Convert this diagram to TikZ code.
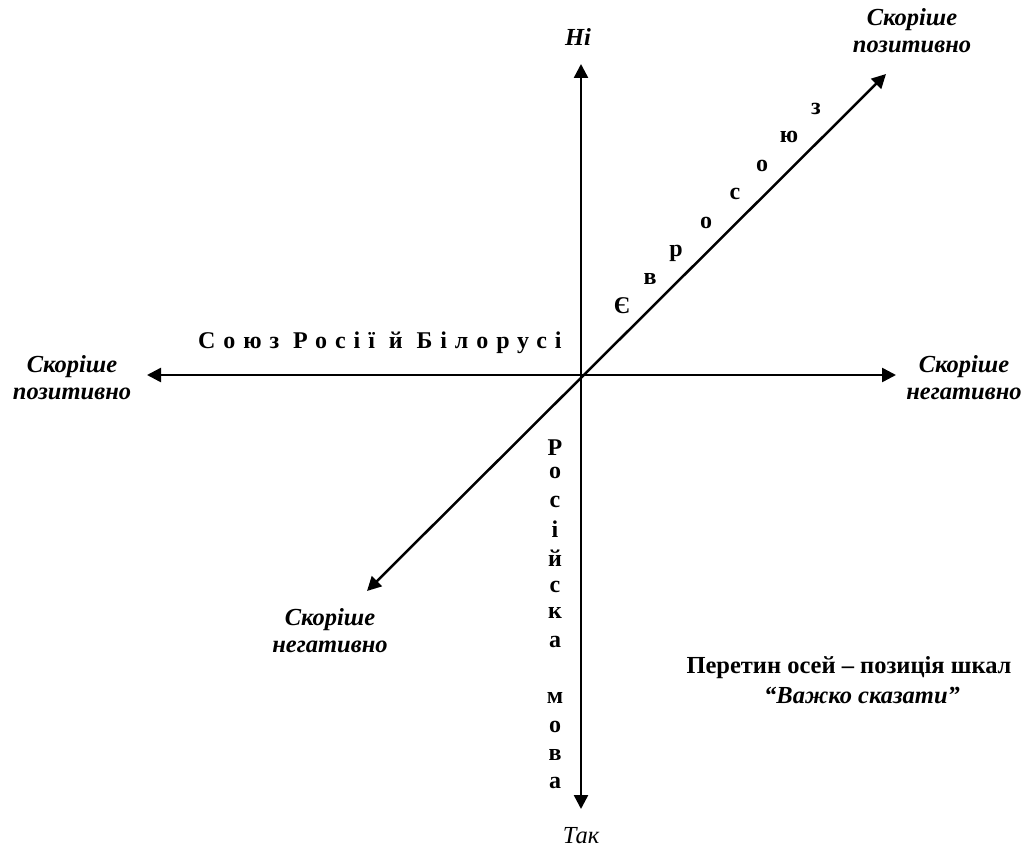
\documentclass[tikz,border=0pt]{standalone}
\usepackage{fontspec}
\setmainfont{Liberation Serif}
\usetikzlibrary{arrows.meta}
\begin{document}
\begin{tikzpicture}[x=1pt,y=-1pt,
  axis/.style={line width=2.5pt, {Triangle[length=14pt,width=14pt]}-{Triangle[length=14pt,width=14pt]}},
  lbl/.style={font=\fontsize{24.5}{27}\selectfont\bfseries\itshape, align=center, inner sep=0pt},
  ltr/.style={font=\fontsize{24}{27}\selectfont\bfseries, inner sep=0pt},
  note/.style={font=\fontsize{24.5}{27}\selectfont\bfseries, align=center, inner sep=0pt}]
\useasboundingbox (0,0) rectangle (1025,848);
\coordinate (N) at (581,64);
\coordinate (S) at (581,809);
\coordinate (W) at (147,375);
\coordinate (E) at (896,375);
\coordinate (NE) at (886,74);
\coordinate (SW) at (367,591);
\draw[axis] (S) -- (N);
\draw[axis] (W) -- (E);
\draw[axis] (SW) -- (NE);

\node[lbl] (ni) at (578,37) {Ні};
\node[lbl, font=\fontsize{24.5}{27}\selectfont\itshape] (tak) at (581,836) {Так};
\node[lbl] (tr) at (912,31) {Скоріше\\позитивно};
\node[lbl] (lft) at (72,378) {Скоріше\\позитивно};
\node[lbl] (rgt) at (964,378) {Скоріше\\негативно};
\node[lbl] (bl) at (330,631) {Скоріше\\негативно};

\node[ltr, anchor=west] (union) at (198,343) {\addfontfeature{LetterSpace=33}Союз Росії й Білорусі};

\foreach \c/\x/\y [count=\i] in {Є/622/306, в/650/279, р/676/253, о/706/223, с/735/194, о/762/166, ю/789/137, з/816/109}
  \node[ltr] (eu\i) at (\x,\y) {\c};

\foreach \c/\y [count=\i] in {Р/448, о/473, с/502, і/529, й/558, с/587, к/613, а/642, м/698, о/727, в/755, а/783}
  \node[ltr] (ru\i) at (555,\y) {\c};

\node[note] (n1) at (849,668) {Перетин осей – позиція шкал};
\node[note, font=\fontsize{24.5}{27}\selectfont\bfseries\itshape] (n2) at (862,695) {“Важко сказати”};
\end{tikzpicture}
\end{document}
